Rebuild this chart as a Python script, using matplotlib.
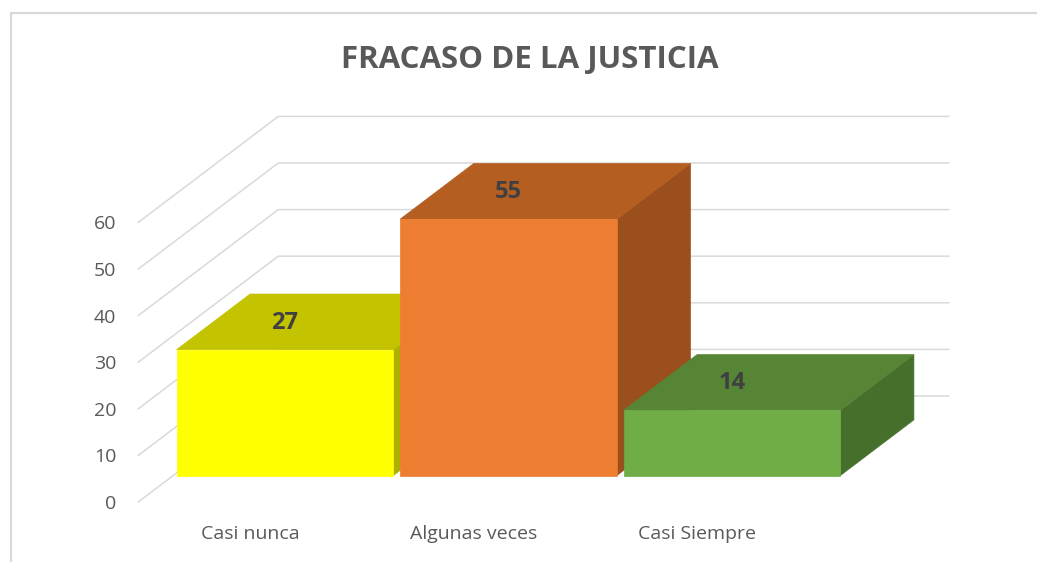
import matplotlib
matplotlib.use("Agg")
import matplotlib.pyplot as plt
from matplotlib.patches import Polygon
from matplotlib.lines import Line2D

categories = ["Casi nunca", "Algunas veces", "Casi Siempre"]
values = [27, 55, 14]
ticks = [0, 10, 20, 30, 40, 50, 60]
title = "FRACASO DE LA JUSTICIA"

front_colors = ["#FFFF00", "#ED7D31", "#70AD47"]
top_colors = ["#C3C300", "#B55E22", "#568536"]
side_colors = ["#AFAF00", "#9A4F1D", "#476F2C"]

W, H = 1037, 562
fig = plt.figure(figsize=(W / 100, H / 100), dpi=100)
ax = fig.add_axes([0, 0, 1, 1])
ax.axis("off")

# oblique projection: category unit = 223.5 px, value unit = 4.66 px
cat_px, val_px = 223.5, 4.66
x0_px, y0_px = 250, 502
ax.set_xlim(-x0_px / cat_px, (W - x0_px) / cat_px)
ax.set_ylim(-(H - y0_px) / val_px, y0_px / val_px)

DX = 140 / cat_px   # full depth offset in category units
DY = 106 / val_px   # full depth offset in value units
z0, z1 = 0.25, 0.775
bw = 0.97
grid_c = "#D9D9D9"
txt_c = "#595959"

def proj(x, y, z):
    return (x + z * DX, y + z * DY)

# walls gridlines
xl, xr = -0.5, len(categories) - 0.5
for t in ticks:
    a = proj(xl, t, 0)
    b = proj(xl, t, 1)
    c = proj(xr, t, 1)
    ax.plot([a[0], b[0], c[0]], [a[1], b[1], c[1]], color=grid_c, lw=1.1, zorder=1)
    ax.annotate(str(t), (a[0], a[1]), xytext=(-22, -7), textcoords="offset pixels",
                ha="right", va="baseline", fontsize=14, color=txt_c, family="Open Sans")

# bars
for i, (v, fc, tc, sc) in enumerate(zip(values, front_colors, top_colors, side_colors)):
    l, r = i - bw / 2, i + bw / 2
    front = [proj(l, 0, z0), proj(r, 0, z0), proj(r, v, z0), proj(l, v, z0)]
    top = [proj(l, v, z0), proj(r, v, z0), proj(r, v, z1), proj(l, v, z1)]
    side = [proj(r, 0, z0), proj(r, 0, z1), proj(r, v, z1), proj(r, v, z0)]
    zb = 3 + i
    ax.add_patch(Polygon(side, closed=True, fc=sc, ec=sc, lw=0.5, zorder=zb))
    ax.add_patch(Polygon(top, closed=True, fc=tc, ec=tc, lw=0.5, zorder=zb))
    ax.add_patch(Polygon(front, closed=True, fc=fc, ec=fc, lw=0.5, zorder=zb + 0.5))
    lx, ly = proj(i, v, z0)
    ly = proj(i, v, (z0 + z1) / 2)[1]
    ax.annotate(str(v), (lx, ly), xytext=(0, -7), textcoords="offset pixels",
                ha="center", va="baseline", fontsize=17, fontweight="bold",
                color="#404040", family="Open Sans", zorder=20)

# category labels on the front plane
for i, cat in enumerate(categories):
    ax.annotate(cat, (i, 0), xytext=(0, -37), textcoords="offset pixels",
                ha="center", va="baseline", fontsize=14, color=txt_c, family="Open Sans")

fig.text(530 / W, 1 - 68 / H, title, ha="center", va="baseline", fontsize=22.5,
         fontweight="bold", color=txt_c, family="Open Sans")

# chart area border (top and left edges visible)
fig.add_artist(Line2D([11 / W, 1], [1 - 13 / H, 1 - 13 / H], color=grid_c, lw=1.6,
                      transform=fig.transFigure))
fig.add_artist(Line2D([11 / W, 11 / W], [0, 1 - 13 / H], color=grid_c, lw=1.6,
                      transform=fig.transFigure))

fig.savefig("out.png", dpi=100)
